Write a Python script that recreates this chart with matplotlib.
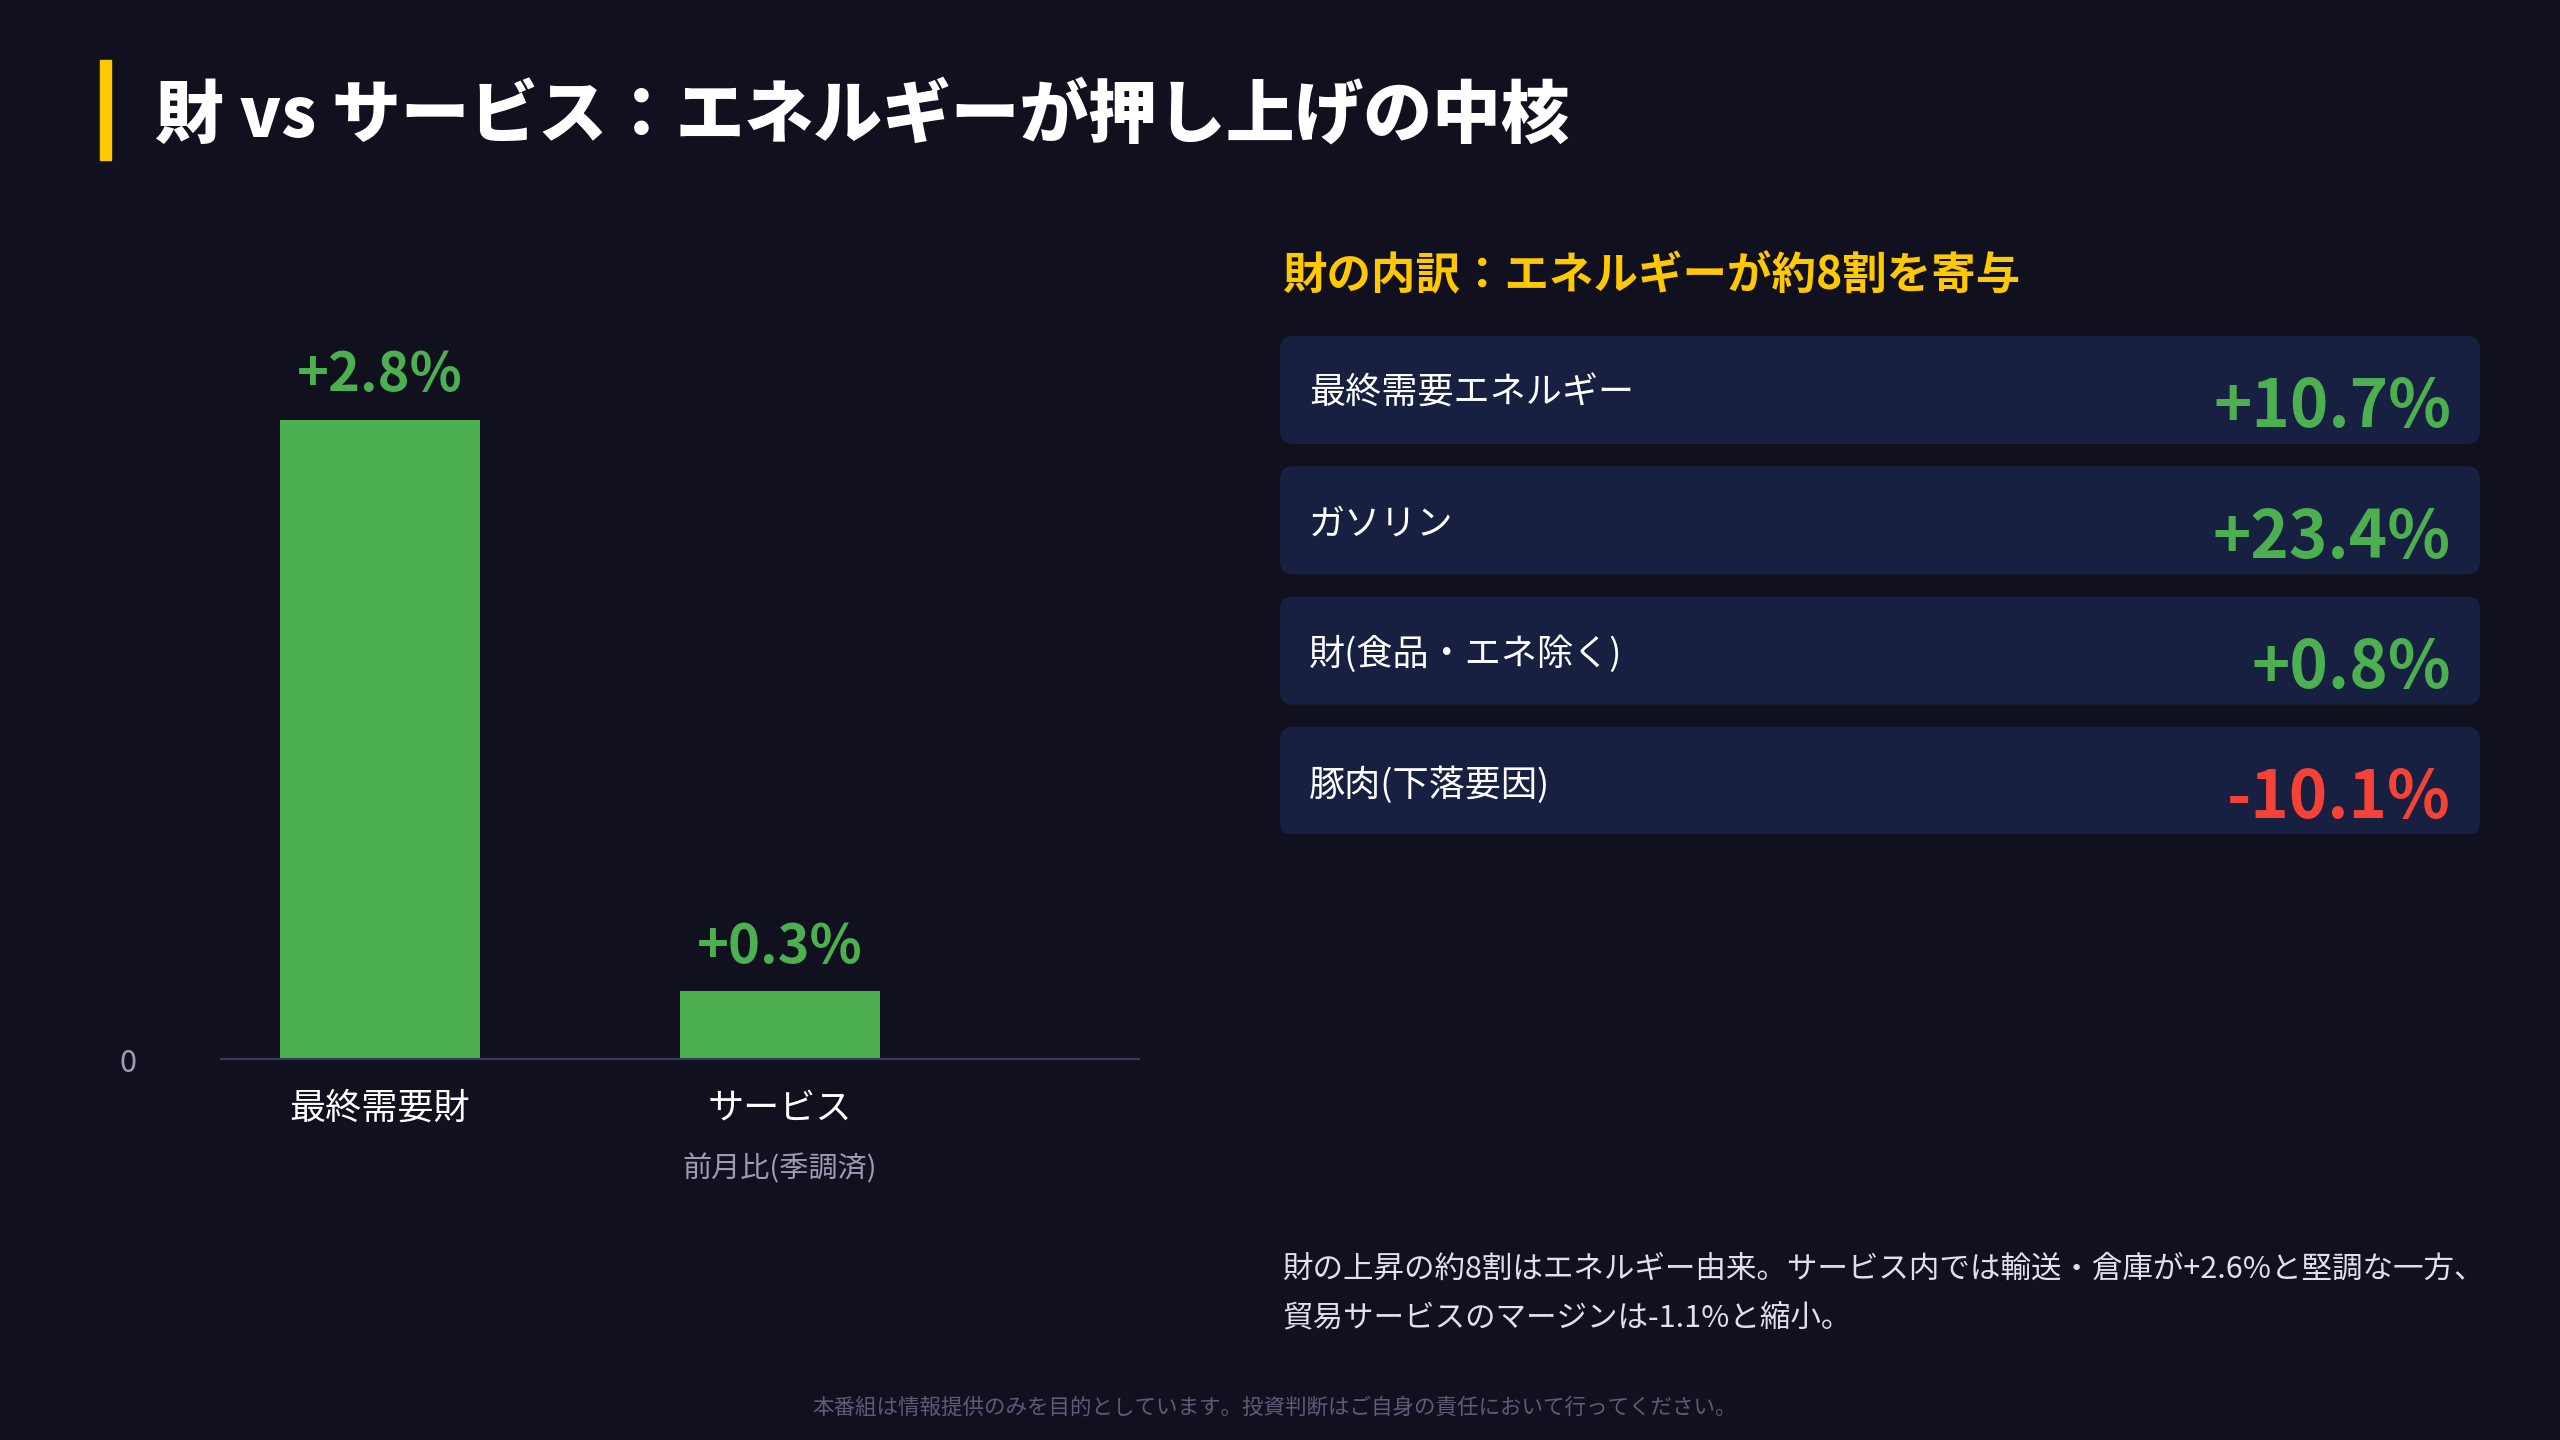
import matplotlib.pyplot as plt
from matplotlib.patches import FancyBboxPatch

plt.rcParams['font.family'] = ['Noto Sans CJK JP', 'DejaVu Sans']

# data
categories = ['最終需要財', 'サービス']
values = [2.8, 0.3]
value_labels = ['+2.8%', '+0.3%']

breakdown_names = ['最終需要エネルギー', 'ガソリン', '財(食品・エネ除く)', '豚肉(下落要因)']
breakdown_values = [10.7, 23.4, 0.8, -10.1]

title = '財 vs サービス：エネルギーが押し上げの中核'
subtitle = '財の内訳：エネルギーが約8割を寄与'
note = ('財の上昇の約8割はエネルギー由来。サービス内では輸送・倉庫が+2.6%と堅調な一方、\n'
        '貿易サービスのマージンは-1.1%と縮小。')
disclaimer = '本番組は情報提供のみを目的としています。投資判断はご自身の責任において行ってください。'

BG = '#10101e'
GREEN = '#4caf50'
RED = '#f44336'
YELLOW = '#ffc800'
BOX = '#172040'
W, H = 2560, 1440

fig = plt.figure(figsize=(25.6, 14.4), dpi=100, facecolor=BG)

# title with accent bar
fig.patches.append(plt.Rectangle((100 / W, 1 - 160 / H), 11 / W, 100 / H,
                                 transform=fig.transFigure, color=YELLOW))
fig.text(155 / W, 1 - 116 / H, title, color='white', fontsize=49.5, fontweight='black',
         va='center', ha='left')

# bar chart
ax = fig.add_axes([220 / W, 1 - 1060 / H, 920 / W, 760 / H])
ax.set_facecolor(BG)
x = range(len(categories))
bars = ax.bar(x, values, width=0.5, color=GREEN, zorder=2)
ax.axhline(0, color='#3a3a5c', lw=3, zorder=3)
ax.set_xlim(-0.4, 1.9)
ax.set_ylim(0, 3.325)
for b, lab in zip(bars, value_labels):
    ax.annotate(lab, (b.get_x() + b.get_width() / 2, b.get_height()),
                xytext=(0, 12), textcoords='offset points', ha='center', va='bottom',
                color=GREEN, fontsize=39, fontweight='bold')
ax.set_xticks(list(x))
ax.set_xticklabels(categories, color='white', fontsize=26)
ax.set_yticks([0])
ax.set_yticklabels(['0'], color='#9b9bb5', fontsize=22)
ax.tick_params(axis='x', length=0, pad=22)
ax.tick_params(axis='y', length=0, pad=60)
for s in ax.spines.values():
    s.set_visible(False)
fig.text(780 / W, 1 - 1169 / H, '前月比(季調済)', color='#9b9bb5', fontsize=21,
         ha='center', va='center')

# right panel
fig.text(1282 / W, 1 - 276 / H, subtitle, color=YELLOW, fontsize=32, fontweight='bold',
         ha='left', va='center')
ax2 = fig.add_axes([1280 / W, 1 - 834 / H, 1200 / W, 498 / H])
ax2.set_xlim(0, 1200)
ax2.set_ylim(498, 0)
ax2.axis('off')
step, bh = 130.3, 108
for i, (name, v) in enumerate(zip(breakdown_names, breakdown_values)):
    top = i * step
    ax2.add_patch(FancyBboxPatch((0, top), 1200, bh, boxstyle='round,pad=0,rounding_size=13',
                                 fc=BOX, ec='none'))
    ax2.text(29, top + bh / 2 + 4, name, color='white', fontsize=26, ha='left', va='center')
    ax2.text(1171, top + bh / 2 + 18, f'{v:+.1f}%', color=GREEN if v >= 0 else RED,
             fontsize=47, fontweight='bold', ha='right', va='center')

fig.text(1282 / W, 1 - 1294 / H, note, color='#e0e0ea', fontsize=22, ha='left', va='center',
         linespacing=1.75)
fig.text(1275 / W, 1 - 1408 / H, disclaimer, color='#5c5c7a', fontsize=15.5, ha='center',
         va='center')

fig.savefig('out.png', dpi=100, facecolor=BG)
